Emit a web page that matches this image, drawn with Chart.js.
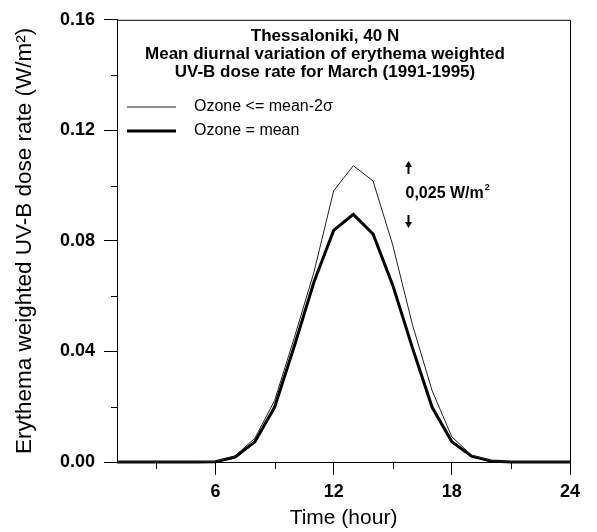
<!DOCTYPE html>
<html>
<head>
<meta charset="utf-8">
<script src="https://cdn.jsdelivr.net/npm/chart.js@4.4.0/dist/chart.umd.min.js"></script>
<style>
  html, body { margin: 0; padding: 0; background: #fff; }
  canvas { display: block; }
</style>
</head>
<body>
<canvas id="uvChart" width="597" height="532"></canvas>
<script>
// ── Data ────────────────────────────────────────────────────────

const HOURS = [1, 2, 3, 4, 5, 6, 7, 8, 9, 10, 11, 12, 13, 14, 15, 16, 17, 18, 19, 20, 21, 22, 23, 24];

// Ozone <= mean-2σ (thin line)
const LOW_OZONE = [0, 0, 0, 0, 0, 0.0002, 0.0022, 0.0086, 0.0222, 0.0449, 0.0687, 0.0981,
                   0.1072, 0.1017, 0.0785, 0.0497, 0.0258, 0.0091, 0.0025, 0.0005, 0, 0, 0, 0];

// Ozone = mean (thick line)
const MEAN_OZONE = [0, 0, 0, 0, 0, 0.0001, 0.0018, 0.0073, 0.0198, 0.0419, 0.0651, 0.0838,
                    0.0896, 0.0825, 0.0640, 0.0413, 0.0198, 0.0073, 0.0021, 0.0004, 0, 0, 0, 0];

const X_TICKS    = [3, 6, 9, 12, 15, 18, 21, 24];
const X_LABELED  = [6, 12, 18, 24];
const Y_TICKS    = [0, 0.02, 0.04, 0.06, 0.08, 0.10, 0.12, 0.14, 0.16];
const Y_LABELED  = [0, 0.04, 0.08, 0.12, 0.16];

const TITLE_LINES = [
  "Thessaloniki, 40 N",
  "Mean diurnal variation of erythema weighted",
  "UV-B dose rate for March (1991-1995)",
];
const LEGEND_LABELS = ["Ozone <= mean-2σ", "Ozone = mean"];

const FONT = "'Liberation Sans', Arial, Helvetica, sans-serif";

// ── Extras drawn on top: frame, minor ticks, title, legend, note ─

const figureExtras = {
  id: "figureExtras",
  afterDraw(chart) {
    const { ctx, chartArea: a, scales } = chart;
    const xs = scales.x, ys = scales.y;
    ctx.save();
    ctx.strokeStyle = "#000";
    ctx.lineWidth = 1;

    // top + right frame
    ctx.beginPath();
    ctx.moveTo(a.left, a.top + 0.5);
    ctx.lineTo(a.right + 0.5, a.top + 0.5);
    ctx.lineTo(a.right + 0.5, a.bottom);
    ctx.stroke();

    // minor ticks (outward, short)
    ctx.beginPath();
    X_TICKS.filter(v => !X_LABELED.includes(v)).forEach(v => {
      const px = Math.round(xs.getPixelForValue(v)) + 0.5;
      ctx.moveTo(px, a.bottom);
      ctx.lineTo(px, a.bottom + 7);
    });
    Y_TICKS.filter(v => !Y_LABELED.includes(v)).forEach(v => {
      const py = Math.round(ys.getPixelForValue(v)) + 0.5;
      ctx.moveTo(a.left - 6, py);
      ctx.lineTo(a.left, py);
    });
    ctx.stroke();

    // title block
    ctx.fillStyle = "#000";
    ctx.textAlign = "center";
    ctx.textBaseline = "middle";
    ctx.font = "bold 17px " + FONT;
    TITLE_LINES.forEach((line, i) => ctx.fillText(line, 325, 36 + i * 18));

    // legend
    const legendY = [107, 131];
    const widths = [1, 3];
    const colors = ["#222", "#000"];
    ctx.textAlign = "left";
    ctx.font = "16px " + FONT;
    LEGEND_LABELS.forEach((label, i) => {
      ctx.beginPath();
      ctx.strokeStyle = colors[i];
      ctx.lineWidth = widths[i];
      ctx.moveTo(127, legendY[i]);
      ctx.lineTo(176, legendY[i]);
      ctx.stroke();
      ctx.fillText(label, 194, legendY[i]);
    });

    // 0,025 W/m² difference note with arrows
    const ax = xs.getPixelForValue(15.8);
    ctx.strokeStyle = "#000";
    ctx.lineWidth = 2;
    ctx.beginPath();
    ctx.moveTo(ax, 165); ctx.lineTo(ax, 174);
    ctx.moveTo(ax, 215); ctx.lineTo(ax, 224);
    ctx.stroke();
    ctx.beginPath();
    ctx.moveTo(ax - 3.5, 167); ctx.lineTo(ax, 161); ctx.lineTo(ax + 3.5, 167);
    ctx.moveTo(ax - 3.5, 222); ctx.lineTo(ax, 228); ctx.lineTo(ax + 3.5, 222);
    ctx.fill();
    ctx.font = "bold 16px " + FONT;
    const note = "0,025 W/m";
    ctx.fillText(note, ax - 3, 194);
    const w = ctx.measureText(note).width;
    ctx.font = "bold 9px " + FONT;
    ctx.fillText("2", ax - 3 + w + 1, 188);

    ctx.restore();
  },
};

// ── Chart ───────────────────────────────────────────────────────

new Chart(document.getElementById("uvChart").getContext("2d"), {
  type: "line",
  data: {
    labels: HOURS,
    datasets: [
      {
        label: LEGEND_LABELS[0],
        data: HOURS.map((h, i) => ({ x: h, y: LOW_OZONE[i] })),
        borderColor: "#222",
        borderWidth: 1,
        pointRadius: 0,
        tension: 0,
        fill: false,
        clip: 4,
      },
      {
        label: LEGEND_LABELS[1],
        data: HOURS.map((h, i) => ({ x: h, y: MEAN_OZONE[i] })),
        borderColor: "#000",
        borderWidth: 3,
        pointRadius: 0,
        tension: 0,
        fill: false,
        clip: 4,
      },
    ],
  },
  options: {
    responsive: false,
    animation: false,
    events: [],
    layout: { padding: { top: 14, right: 27, left: 0, bottom: 0 } },
    plugins: {
      legend: { display: false },
      tooltip: { enabled: false },
    },
    scales: {
      x: {
        type: "linear",
        min: 1,
        max: 24,
        afterBuildTicks: (scale) => { scale.ticks = X_TICKS.map(v => ({ value: v })); },
        afterFit: (scale) => { scale.height = 70; },
        border: { display: true, color: "#000", width: 1 },
        grid: {
          drawOnChartArea: false,
          tickLength: 13,
          tickColor: (c) => (X_LABELED.includes(c.tick && c.tick.value) ? "#000" : "rgba(0,0,0,0)"),
        },
        ticks: {
          autoSkip: false,
          maxRotation: 0,
          padding: 6,
          color: "#000",
          font: { family: FONT, size: 18, weight: "bold" },
          callback: (v) => (X_LABELED.includes(v) ? String(v) : ""),
        },
        title: {
          display: true,
          text: "Time (hour)",
          color: "#000",
          font: { family: FONT, size: 21 },
          padding: { top: 0, bottom: 1 },
        },
      },
      y: {
        min: 0,
        max: 0.16,
        afterBuildTicks: (scale) => { scale.ticks = Y_TICKS.map(v => ({ value: v })); },
        afterFit: (scale) => { scale.width = 117; },
        border: { display: true, color: "#000", width: 1 },
        grid: {
          drawOnChartArea: false,
          tickLength: 13,
          tickColor: (c) => (Y_LABELED.includes(c.tick && c.tick.value) ? "#000" : "rgba(0,0,0,0)"),
        },
        ticks: {
          autoSkip: false,
          padding: 9,
          color: "#000",
          font: { family: FONT, size: 18, weight: "bold" },
          callback: (v) => (Y_LABELED.includes(v) ? v.toFixed(2) : ""),
        },
        title: {
          display: true,
          text: "Erythema weighted UV-B dose rate (W/m²)",
          color: "#000",
          font: { family: FONT, size: 22.5 },
          padding: { top: 11, bottom: 0 },
        },
      },
    },
  },
  plugins: [figureExtras],
});
</script>
</body>
</html>
